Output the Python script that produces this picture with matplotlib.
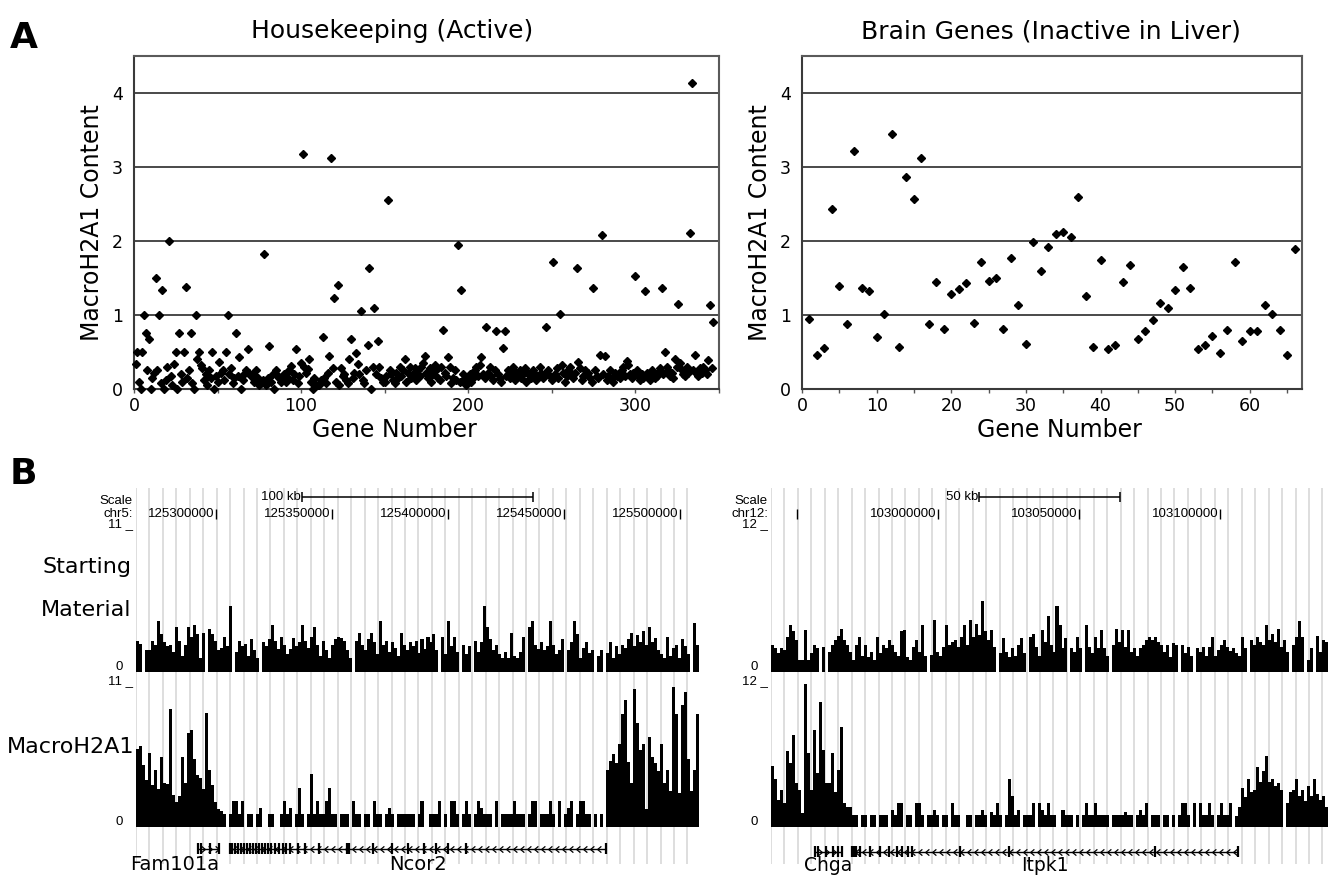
import numpy as np
import matplotlib
matplotlib.use("Agg")
import matplotlib.pyplot as plt
from matplotlib.path import Path

# ------------------------------------------------------------------ data
# Panel A, left: housekeeping genes 1..347
hk_values = [
    0.34, 0.50, 0.10, 0.00, 0.50, 1.00, 0.76, 0.25, 0.67, 0.00,
    0.15, 0.22, 1.50, 0.25, 1.00, 0.08, 1.34, 0.00, 0.12, 0.30,
    2.00, 0.18, 0.05, 0.34, 0.50, 0.00, 0.76, 0.20, 0.10, 0.50,
    1.38, 0.15, 0.25, 0.76, 0.08, 0.00, 1.00, 0.40, 0.50, 0.32,
    0.28, 0.12, 0.20, 0.05, 0.25, 0.15, 0.50, 0.00, 0.18, 0.10,
    0.37, 0.22, 0.25, 0.12, 0.50, 1.00, 0.20, 0.28, 0.08, 0.15,
    0.76, 0.18, 0.43, 0.00, 0.12, 0.20, 0.25, 0.54, 0.22, 0.18,
    0.20, 0.10, 0.25, 0.15, 0.05, 0.08, 0.12, 1.82, 0.06, 0.15,
    0.58, 0.10, 0.20, 0.00, 0.25, 0.18, 0.15, 0.10, 0.12, 0.20,
    0.10, 0.15, 0.25, 0.31, 0.12, 0.20, 0.54, 0.08, 0.18, 0.35,
    3.17, 0.30, 0.22, 0.27, 0.41, 0.10, 0.00, 0.15, 0.05, 0.06,
    0.05, 0.12, 0.70, 0.15, 0.08, 0.22, 0.45, 3.12, 0.28, 1.23,
    0.10, 1.40, 0.05, 0.28, 0.18, 0.20, 0.12, 0.08, 0.41, 0.67,
    0.15, 0.22, 0.48, 0.34, 0.20, 1.06, 0.12, 0.08, 0.25, 0.59,
    1.64, 0.00, 0.30, 1.10, 0.20, 0.65, 0.30, 0.15, 0.10, 0.10,
    0.18, 2.55, 0.25, 0.20, 0.12, 0.08, 0.22, 0.15, 0.30, 0.18,
    0.25, 0.41, 0.10, 0.22, 0.30, 0.15, 0.20, 0.28, 0.12, 0.25,
    0.18, 0.30, 0.35, 0.45, 0.22, 0.15, 0.28, 0.10, 0.20, 0.32,
    0.25, 0.15, 0.12, 0.30, 0.80, 0.22, 0.18, 0.43, 0.30, 0.08,
    0.15, 0.25, 0.12, 1.94, 0.10, 1.34, 0.20, 0.15, 0.05, 0.12,
    0.20, 0.10, 0.15, 0.25, 0.30, 0.18, 0.33, 0.43, 0.20, 0.15,
    0.84, 0.22, 0.30, 0.18, 0.12, 0.25, 0.78, 0.20, 0.15, 0.10,
    0.56, 0.78, 0.18, 0.25, 0.15, 0.20, 0.30, 0.12, 0.22, 0.18,
    0.25, 0.15, 0.20, 0.28, 0.10, 0.22, 0.18, 0.15, 0.25, 0.20,
    0.12, 0.18, 0.30, 0.22, 0.15, 0.20, 0.84, 0.25, 0.18, 0.12,
    1.71, 0.20, 0.28, 0.15, 1.02, 0.32, 0.22, 0.10, 0.18, 0.25,
    0.30, 0.20, 0.15, 0.22, 1.63, 0.36, 0.28, 0.12, 0.18, 0.25,
    0.20, 0.22, 0.15, 0.10, 1.36, 0.25, 0.18, 0.15, 0.46, 2.08,
    0.20, 0.44, 0.12, 0.18, 0.25, 0.15, 0.10, 0.22, 0.18, 0.20,
    0.15, 0.25, 0.30, 0.18, 0.38, 0.32, 0.20, 0.15, 0.22, 1.53,
    0.25, 0.18, 0.12, 0.20, 0.15, 1.32, 0.22, 0.18, 0.12, 0.25,
    0.20, 0.15, 0.18, 0.22, 0.28, 1.37, 0.20, 0.50, 0.30, 0.25,
    0.18, 0.22, 0.15, 0.41, 0.30, 1.15, 0.35, 0.25, 0.20, 0.18,
    0.30, 0.22, 2.11, 4.13, 0.25, 0.46, 0.20, 0.18, 0.28, 0.22,
    0.30, 0.25, 0.20, 0.39, 1.13, 0.28, 0.90,
]

# Panel A, right: brain genes 1..66
brain_values = [
    0.94, 0.455, 0.55, 2.43, 1.39, 0.88, 3.21, 1.365, 1.33, 0.70,
    1.02, 3.44, 0.57, 2.86, 2.57, 3.12, 0.88, 1.44, 0.81, 1.29,
    1.35, 1.43, 0.89, 1.71, 1.46, 1.50, 0.81, 1.77, 1.13, 0.61,
    1.98, 1.60, 1.92, 2.09, 2.12, 2.06, 2.60, 1.25, 0.57, 1.74,
    0.545, 0.595, 1.45, 1.68, 0.68, 0.79, 0.93, 1.16, 1.09, 1.34,
    1.65, 1.36, 0.545, 0.595, 0.71, 0.49, 0.80, 1.72, 0.65, 0.78,
    0.78, 1.13, 1.01, 0.80, 0.46, 1.89,
]

y_ticks = [0, 1, 2, 3, 4]
hk_xticks = [0, 100, 200, 300]
brain_xticks = [0, 10, 20, 30, 40, 50, 60]

# Panel B, left locus (chr5)
left_region = (125265500, 125508200)
left_pos_ticks = [125300000, 125350000, 125400000, 125450000, 125500000]
left_pos_labels = ["125300000", "125350000", "125400000", "125450000", "125500000"]
left_sm = [
    2.3, 2.1, 0, 1.6, 1.6, 2.3, 2.0, 3.8, 2.8, 2.2, 1.9, 2.0, 1.5, 3.3, 2.3, 1.2,
    2.0, 3.3, 2.6, 3.5, 2.8, 1.0, 2.9, 0, 3.2, 2.8, 2.3, 1.6, 1.8, 2.6, 1.9, 4.9,
    0, 1.5, 2.3, 1.9, 2.1, 1.2, 2.4, 1.6, 1.0, 0, 2.2, 1.9, 2.4, 3.5, 2.3, 1.7,
    2.6, 2.0, 1.3, 1.7, 2.5, 1.9, 2.2, 3.5, 2.3, 1.8, 2.6, 3.3, 2.0, 1.2, 2.3, 1.6,
    1.0, 2.0, 2.4, 2.6, 2.5, 2.3, 1.6, 1.0, 0, 2.3, 2.9, 2.0, 1.6, 2.4, 2.9, 2.2,
    1.3, 3.8, 2.0, 2.3, 1.5, 2.2, 1.8, 1.2, 2.9, 2.0, 1.6, 2.2, 1.9, 2.3, 1.4, 2.4,
    1.7, 2.6, 2.2, 2.8, 1.6, 0, 2.6, 1.3, 3.8, 1.9, 2.6, 1.5, 0, 2.0, 1.3, 1.9,
    0, 2.3, 1.5, 2.2, 4.9, 3.3, 2.4, 1.6, 2.0, 1.3, 1.0, 1.5, 1.0, 2.9, 1.2, 1.0,
    1.5, 2.6, 0, 3.3, 3.8, 2.0, 1.7, 2.2, 1.6, 1.9, 3.8, 2.0, 1.3, 1.6, 2.4, 0,
    1.6, 2.2, 3.8, 2.8, 1.0, 1.8, 2.2, 1.4, 1.6, 0, 1.2, 1.6, 0, 1.4, 2.2, 1.0,
    1.9, 1.3, 2.0, 1.8, 2.4, 2.9, 1.9, 2.7, 2.2, 3.0, 2.0, 3.3, 2.2, 2.5, 1.6, 1.3,
    1.0, 2.6, 1.2, 1.8, 2.0, 1.0, 2.4, 1.9, 1.3, 0, 3.6, 2.0,
]
left_mh = [
    6.0, 6.2, 4.8, 3.6, 5.7, 3.2, 4.4, 2.9, 5.4, 3.4, 3.3, 9.1, 2.5, 1.9, 2.4, 5.4,
    3.4, 7.2, 7.5, 5.2, 4.0, 3.8, 2.9, 8.8, 4.4, 3.2, 1.9, 1.4, 1.2,
    1, 0, 1, 2, 2, 1, 2, 0, 1, 1, 0, 1, 1.5, 0, 0, 1, 1, 0, 0, 1, 2, 1, 1.5, 0, 1,
    3, 1, 0, 1, 4.1, 1, 2, 1, 1, 2, 3, 1, 1, 0, 1, 1, 1, 0, 2, 1, 1, 0, 1, 1, 0, 2,
    1, 1, 0, 1, 1.5, 1, 0, 1, 1, 1,
    1, 1, 1, 0, 1, 2, 0, 0, 1, 1, 1, 2, 0, 1, 0, 2, 2, 1, 0, 1, 2, 1, 0, 1, 2, 1.5,
    1, 1, 1, 0, 2, 0, 1, 1, 1, 1, 2, 1, 1, 1, 0, 1, 2, 2, 0, 1, 1, 1, 2, 1, 0, 2, 0,
    1, 1.5, 2, 0, 1, 2, 2, 1, 1, 0, 1, 0, 1, 0,
    4.4, 5.1, 5.6, 4.9, 6.4, 8.7, 9.8, 5.0, 3.4, 10.6, 8.0, 5.9, 6.4, 1.4, 6.9, 5.4,
    4.9, 4.3, 6.4, 3.4, 4.4, 2.8, 10.8, 8.7, 2.6, 9.4, 10.4, 5.2, 2.8, 4.4, 8.7,
]

# Panel B, right locus (chr12)
right_region = (102940800, 103138300)
right_pos_ticks = [102950000, 103000000, 103050000, 103100000]
right_pos_labels = ["", "103000000", "103050000", "103100000"]
right_sm = [
    2.2, 1.9, 1.5, 1.9, 1.8, 2.8, 3.8, 3.3, 2.6, 1.0, 1.0, 3.4, 1.0, 1.5, 2.2, 1.9,
    0, 2.0, 0, 1.6, 2.2, 2.6, 2.9, 3.5, 2.6, 2.2, 1.6, 1.0, 2.2, 2.8, 1.3, 2.2,
    1.2, 1.6, 1.0, 2.8, 1.5, 2.2, 1.9, 2.6, 2.2, 1.6, 1.3, 3.3, 3.4, 1.2, 1.0, 2.0,
    2.6, 1.6, 3.8, 1.3, 0, 1.4, 4.2, 1.6, 1.3, 2.0, 3.8, 2.2, 2.4, 2.6, 2.0, 2.8,
    3.8, 2.2, 4.2, 2.8, 3.9, 3.0, 5.7, 3.3, 2.6, 3.4, 2.0, 0, 1.5, 2.7, 1.6, 1.2,
    1.9, 1.3, 2.2, 2.7, 1.5, 0, 2.8, 3.1, 2.0, 1.3, 3.4, 2.4,
    4.5, 2.2, 1.6, 5.3, 3.8, 1.9, 2.7, 0, 1.9, 1.6, 2.8, 1.9, 0, 3.8, 2.0, 1.5,
    2.8, 1.9, 3.4, 1.9, 1.3, 0, 2.2, 3.5, 2.4, 3.4, 2.0, 3.4, 1.6, 1.9, 1.3, 1.9,
    2.2, 2.6, 2.8, 2.6, 2.8, 2.4, 2.2, 1.6, 2.2, 1.2, 2.3, 2.2, 0, 2.2, 1.5, 2.0,
    1.3, 0, 1.9, 1.6, 2.0, 1.3, 2.0, 2.8, 1.3, 1.8, 2.2, 2.6, 2.0, 1.7, 1.9, 1.5,
    1.3, 2.8, 1.9, 0, 2.6, 2.2, 2.8, 2.4, 2.2, 3.8, 2.6, 3.1, 2.4, 3.5, 2.0, 2.6,
    1.6, 0, 2.2, 2.8, 4.1, 2.8, 0, 1.0, 1.9, 0, 2.9, 1.6, 2.6, 2.4,
]
right_mh = [
    5.1, 4.0, 2.3, 3.1, 2.0, 6.4, 5.4, 7.7, 3.7, 3.1, 1.2, 12.0, 6.2, 3.1, 8.1, 4.5,
    10.5, 6.5, 3.7, 3.7, 6.2, 2.9, 4.8, 8.4, 2.0, 1.7, 1.7,
    1, 1, 0, 1, 1, 0, 1, 1, 0, 1, 1, 1, 0, 1.4, 1, 2, 2, 0, 1, 1, 0, 2, 2, 1, 0, 1,
    1, 1.4, 1, 0, 1, 1, 0, 2, 1, 1, 0, 0, 1, 1, 0, 1, 1, 1.4, 1, 0, 1.3, 1, 2, 1, 0,
    1, 4, 2.6, 1, 1.4, 0, 1, 1, 1, 2, 0, 2, 1.4, 1, 2, 1, 1, 0, 0, 1.4, 1, 1, 1, 0,
    1, 0, 1, 2, 1, 1, 2, 1, 1, 1, 1, 0, 1, 1, 1, 1, 1.3, 1, 1, 0, 1, 1.4, 1, 2, 0,
    1, 1, 1, 0, 1, 1, 0, 1, 0, 1, 2, 2, 1, 0, 2, 0, 2, 1, 1, 2, 1, 0, 1, 2, 1, 1, 2,
    0,
    0.9, 1.7, 3.3, 2.5, 4.0, 2.9, 3.1, 5.0, 3.8, 4.7, 6.0, 3.8, 4.0, 3.4, 3.7, 3.1,
    0, 2.0, 2.9, 3.1, 4.0, 2.6, 3.1, 2.2, 3.4, 2.6, 4.0, 2.8, 2.3, 2.6, 1.7,
]

# gene models (genomic coordinates)
genes_left = [
    dict(name="Fam101a", start=125292200, end=125301300, strand="+",
         exons=[125292200, 125293500, 125297400, 125301300]),
    dict(name="Ncor2", start=125306000, end=125468100, strand="-",
         exons=[125306000, 125306900, 125308200, 125309500, 125310800, 125312100,
                125313400, 125314700, 125316000, 125317200, 125318500, 125319800,
                125321100, 125322400, 125323700, 125325400, 125327200, 125328900,
                125330200, 125331900, 125335300, 125338400, 125344400, 125356500,
                125357300, 125367700, 125375900, 125382800, 125389700, 125394800,
                125400000, 125407800, 125468100]),
]
genes_right = [
    dict(name="Chga", start=102956400, end=102966000, strand="+",
         exons=[102956400, 102957400, 102960300, 102962800, 102964500, 102966000]),
    dict(name="Itpk1", start=102969500, end=103106400, strand="-",
         exons=[102969500, 102970200, 102970900, 102972300, 102975900, 102979400,
                102982600, 102985400, 102987200, 102989400, 102990800, 103007800,
                103025200, 103076900, 103106400]),
]

# ------------------------------------------------------------------ figure
W, H = 1328, 876
fig = plt.figure(figsize=(W / 100, H / 100), dpi=100)
fig.patch.set_facecolor("white")

SANS = ["DejaVu Sans"]
NARROW = ["Liberation Sans Narrow", "Liberation Sans", "DejaVu Sans"]


def axes_px(l, t, r, b, **kw):
    return fig.add_axes([l / W, 1 - b / H, (r - l) / W, (b - t) / H], **kw)


def text_px(x, y, s, **kw):
    fig.text(x / W, 1 - y / H, s, **kw)


def scatter_panel(l, r, values, xmax, xticks, minor, title, title_x, xlab_x):
    ax = axes_px(l, 56, r, 389)
    genes = np.arange(1, len(values) + 1)
    for yv in y_ticks[1:]:
        ax.axhline(yv, color="#3a3a3a", lw=1.3, zorder=1)
    ax.plot(genes, values, linestyle="none", marker="D", ms=4.4,
            color="black", mec="black", zorder=3, clip_on=False)
    ax.set_xlim(0, xmax)
    ax.set_ylim(0, 4.5)
    ax.set_yticks(y_ticks)
    ax.set_xticks(xticks)
    ax.set_xticks(minor, minor=True)
    ax.tick_params(axis="both", which="both", direction="out", length=3,
                   width=1, color="#555555", labelsize=12.5, pad=3)
    ax.tick_params(axis="y", length=0, pad=8)
    for lab in ax.get_xticklabels() + ax.get_yticklabels():
        lab.set_family(SANS)
    for side, sp in ax.spines.items():
        sp.set_linewidth(1.5)
        sp.set_color("#3a3a3a" if side in ("left", "bottom") else "#5a5a5a")
    ax.set_ylabel("MacroH2A1 Content", fontsize=17, family=SANS, labelpad=6)
    text_px(title_x, 31, title, ha="center", va="center", fontsize=18,
            family=SANS)
    text_px(xlab_x, 430, "Gene Number", ha="center", va="center", fontsize=17,
            family=SANS)
    return ax


scatter_panel(134, 718.5, hk_values, 350, hk_xticks, [50, 150, 250, 350],
              "Housekeeping (Active)", 392, 394)
scatter_panel(802, 1302, brain_values, 67, brain_xticks, [5, 15, 25, 35, 45, 55, 65],
              "Brain Genes (Inactive in Liver)", 1051, 1059)

text_px(10, 38, "A", fontsize=26, family=SANS, weight="bold", va="center",
        ha="left")
text_px(10, 474, "B", fontsize=26, family=SANS, weight="bold", va="center",
        ha="left")


def chevron(direction):
    if direction == "-":
        verts = [(0.6, 1.0), (-0.6, 0.0), (0.6, -1.0)]
    else:
        verts = [(-0.6, 1.0), (0.6, 0.0), (-0.6, -1.0)]
    return Path(verts, [Path.MOVETO, Path.LINETO, Path.LINETO])


def locus_panel(l, r, region, pos_ticks, pos_labels, sm, mh, sm_max, mh_max,
                genes, gene_y, scale_kb, chrom_label, label_x_right):
    x0, x1 = region
    px_per_bp = (r - l) / (x1 - x0)

    # background axes holding gray guide lines, header and gene models
    bg = axes_px(l, 480, r, 876)
    bg.set_xlim(x0, x1)
    bg.set_ylim(876, 480)
    bg.axis("off")
    spacing = 13.45 / px_per_bp
    guide = np.arange(x0, x1, spacing)
    bg.vlines(guide, 488, 864, color="#d4d4d4", lw=1.1, zorder=0)

    # position ruler
    for p, s in zip(pos_ticks, pos_labels):
        bg.vlines(p, 509, 519, color="black", lw=1.0)
        if s:
            bg.text(p - 1.5 / px_per_bp, 514, s, ha="right", va="center",
                    fontsize=9.5, family=NARROW)
    mid = 0.5 * (x0 + x1)
    half = scale_kb * 1000 / 2
    bg.hlines(497, mid - half, mid + half, color="black", lw=1.1)
    bg.vlines([mid - half, mid + half], 492, 502, color="black", lw=1.1)
    bg.text(mid - half - 1 / px_per_bp, 497, "%d kb" % scale_kb, ha="right",
            va="center", fontsize=9.5, family=NARROW)

    # gene models
    for g in genes:
        bg.hlines(gene_y, g["start"], g["end"], color="black", lw=1.0)
        bg.vlines(g["exons"], gene_y - 5.5, gene_y + 5.5, color="black", lw=1.6)
        step = 7.0 / px_per_bp
        cx = np.arange(g["start"] + step * 0.7, g["end"] - step * 0.3, step)
        bg.plot(cx, np.full(len(cx), gene_y), linestyle="none",
                marker=chevron(g["strand"]), ms=4.5, mfc="none", mec="black",
                mew=0.9)

    # data tracks
    tracks = [(sm, 523, 672, sm_max), (mh, 684, 827, mh_max)]
    for vals, top, bot, vmax in tracks:
        ax = axes_px(l, top, r, bot)
        ax.patch.set_alpha(0)
        n = len(vals)
        width = (x1 - x0) / n
        left_edges = x0 + np.arange(n) * width
        ax.bar(left_edges, vals, width=width * 1.01, align="edge",
               color="black", linewidth=0, antialiased=False)
        ax.set_xlim(x0, x1)
        ax.set_ylim(0, vmax)
        ax.axis("off")

    # left side labels
    text_px(label_x_right, 501, "Scale", ha="right", va="center", fontsize=9.5,
            family=NARROW)
    text_px(label_x_right, 514, chrom_label, ha="right", va="center",
            fontsize=9.5, family=NARROW)
    text_px(label_x_right, 524, "%d _" % sm_max, ha="right", va="center",
            fontsize=9.5, family=NARROW)
    text_px(label_x_right - 10, 667, "0", ha="right", va="center", fontsize=9.5,
            family=NARROW)
    text_px(label_x_right, 681, "%d _" % mh_max, ha="right", va="center",
            fontsize=9.5, family=NARROW)
    text_px(label_x_right - 10, 822, "0", ha="right", va="center", fontsize=9.5,
            family=NARROW)
    return bg, px_per_bp


bgL, pL = locus_panel(136, 699, left_region, left_pos_ticks, left_pos_labels,
                      left_sm, left_mh, 11, 11, genes_left, 849, 100,
                      "chr5:", 133)
bgR, pR = locus_panel(771, 1328, right_region, right_pos_ticks, right_pos_labels,
                      right_sm, right_mh, 12, 12, genes_right, 852, 50,
                      "chr12:", 768)

# gene labels
g = genes_left[0]
bgL.text(g["end"], 865, g["name"], ha="right", va="center", fontsize=14,
         family=SANS)
g = genes_left[1]
bgL.text(0.5 * (g["start"] + g["end"]), 865, g["name"], ha="center",
         va="center", fontsize=14, family=SANS)
for g in genes_right:
    bgR.text(0.5 * (g["start"] + g["end"]), 866, g["name"], ha="center",
             va="center", fontsize=13.5, family=SANS)

# track names
text_px(131, 567, "Starting", ha="right", va="center", fontsize=16, family=SANS)
text_px(131, 610, "Material", ha="right", va="center", fontsize=16, family=SANS)
text_px(134, 747, "MacroH2A1", ha="right", va="center", fontsize=16, family=SANS)

fig.savefig("out.png", dpi=100, facecolor="white")
